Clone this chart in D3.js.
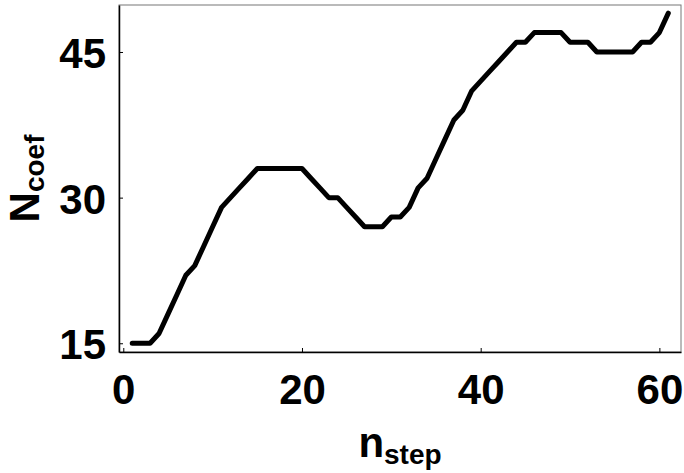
<!DOCTYPE html>
<html>
<head>
<meta charset="utf-8">
<script src="https://cdn.jsdelivr.net/npm/d3@7"></script>
<style>
  body { margin: 0; background: #fff; }
  text { font-family: "Liberation Sans", Arial, sans-serif; font-weight: bold; fill: #000; }
</style>
</head>
<body>
<script>
// Data: number of coefficients per step
var steps = d3.range(1, 62);
var ncoef = [15, 15, 15, 16, 18, 20, 22, 23, 25, 27,
             29, 30, 31, 32, 33, 33, 33, 33, 33, 33,
             32, 31, 30, 30, 29, 28, 27, 27, 27, 28,
             28, 29, 31, 32, 34, 36, 38, 39, 41, 42,
             43, 44, 45, 46, 46, 47, 47, 47, 47, 46,
             46, 46, 45, 45, 45, 45, 45, 46, 46, 47,
             49];
var xTicks = [0, 20, 40, 60];
var yTicks = [15, 30, 45];

var data = steps.map(function (s, i) { return { step: s, n: ncoef[i] }; });

// Dimensions and margins
var margin = { top: 5, right: 3, bottom: 121, left: 119 },
    width = 684 - margin.left - margin.right,
    height = 473 - margin.top - margin.bottom;

var svg = d3.select("body")
    .append("svg")
    .attr("width", 684)
    .attr("height", 473)
    .append("g")
    .attr("transform", "translate(" + margin.left + "," + margin.top + ")");

// Scales
var x = d3.scaleLinear()
    .domain([-0.48, 62.42])
    .range([0, width]);

var y = d3.scaleLinear()
    .domain([14.1, 49.84])
    .range([height, 0]);

// Frame (top/right lighter)
svg.append("rect")
    .attr("width", width)
    .attr("height", height)
    .attr("fill", "none")
    .attr("stroke", "#777")
    .attr("stroke-width", 1);

// X axis
var xAxis = svg.append("g")
    .attr("transform", "translate(0," + height + ")")
    .call(d3.axisBottom(x).tickValues(xTicks).tickSizeInner(-4).tickSizeOuter(0).tickPadding(22));

// Y axis
var yAxis = svg.append("g")
    .call(d3.axisLeft(y).tickValues(yTicks).tickSizeInner(-4).tickSizeOuter(0).tickPadding(13));

[xAxis, yAxis].forEach(function (a) {
    a.select(".domain").attr("stroke", "#000").attr("stroke-width", 1.5);
    a.selectAll(".tick line").attr("stroke", "#000");
    a.selectAll(".tick text")
        .attr("font-family", "Liberation Sans, Arial, sans-serif")
        .attr("font-weight", "bold")
        .attr("font-size", 42)
        .attr("fill", "#000");
});
yAxis.selectAll(".tick text").attr("dy", "0.37em");

// Line
var line = d3.line()
    .x(function (d) { return x(d.step); })
    .y(function (d) { return y(d.n); });

svg.append("path")
    .datum(data)
    .attr("fill", "none")
    .attr("stroke", "#000")
    .attr("stroke-width", 5)
    .attr("stroke-linecap", "round")
    .attr("stroke-linejoin", "round")
    .attr("d", line);

// X axis title
var xt = svg.append("text")
    .attr("x", width / 2)
    .attr("y", height + 105)
    .attr("text-anchor", "middle")
    .attr("font-size", 42);
xt.append("tspan").text("n");
xt.append("tspan").attr("font-size", 28).attr("dy", 7).text("step");

// Y axis title
var yt = svg.append("text")
    .attr("transform", "translate(" + (-80) + "," + (height / 2) + ") rotate(-90)")
    .attr("text-anchor", "middle")
    .attr("font-size", 42);
yt.append("tspan").text("N");
yt.append("tspan").attr("font-size", 28).attr("dy", 5).text("coef");
</script>
</body>
</html>
